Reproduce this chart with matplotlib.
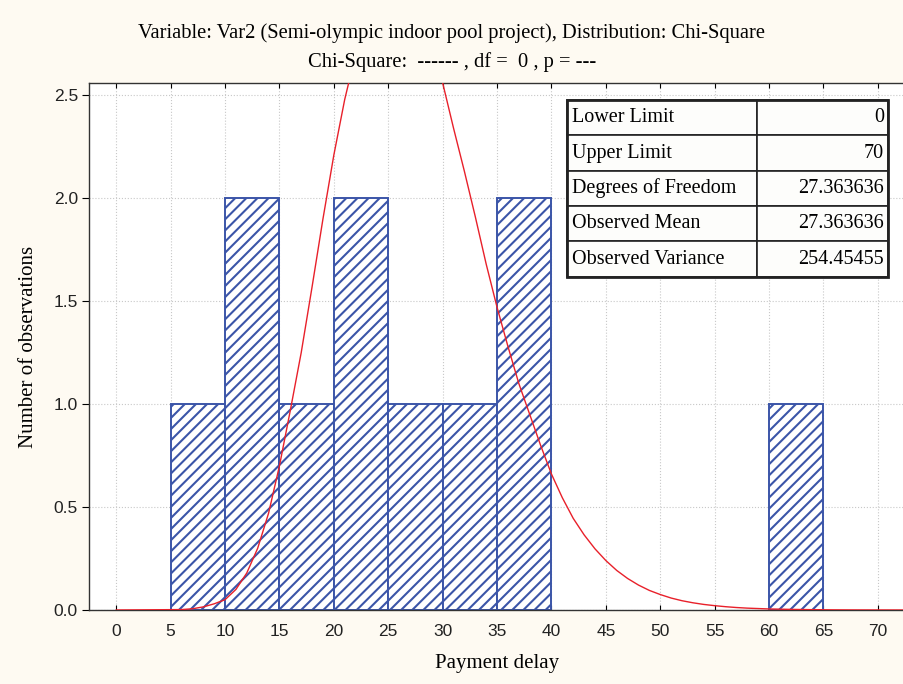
import matplotlib
matplotlib.use("Agg")
import matplotlib.pyplot as plt
from matplotlib.patches import Rectangle

# histogram of payment delay (bin left edges, counts)
bin_left = [5, 10, 15, 20, 25, 30, 35, 60]
counts = [1, 2, 1, 2, 1, 1, 2, 1]
bin_w = 5

# fitted chi-square curve
curve_x = [0, 6, 7, 8, 9, 10, 11, 12, 13, 14, 15, 16, 17, 18, 19, 20, 21, 22, 23, 24,
           25, 26, 27, 28, 29, 30, 31, 32, 33, 34, 35, 36, 37, 38, 39, 40, 41, 42, 43,
           44, 45, 46, 47, 48, 49, 50, 51, 52, 53, 54, 55, 56, 57, 58, 59, 60, 62, 64,
           66, 68, 72.5]
curve_y = [0, 0.002, 0.006, 0.015, 0.03, 0.05, 0.10, 0.18, 0.30, 0.47, 0.70, 0.97, 1.25,
           1.57, 1.90, 2.21, 2.48, 2.70, 2.87, 2.98, 3.04, 3.05, 3.01, 2.92, 2.76, 2.56,
           2.34, 2.13, 1.91, 1.68, 1.47, 1.28, 1.10, 0.95, 0.80, 0.66, 0.545, 0.445,
           0.365, 0.297, 0.24, 0.192, 0.153, 0.121, 0.095, 0.075, 0.058, 0.045, 0.035,
           0.027, 0.021, 0.016, 0.012, 0.009, 0.007, 0.005, 0.003, 0.0015, 0.0007,
           0.0003, 0]

table_rows = [["Lower Limit", "0"],
              ["Upper Limit", "70"],
              ["Degrees of Freedom", "27.363636"],
              ["Observed Mean", "27.363636"],
              ["Observed Variance", "254.45455"]]

serif = "Liberation Serif"
sans = "Liberation Sans"
blue = "#3b55a8"

plt.rcParams["hatch.color"] = blue
plt.rcParams["hatch.linewidth"] = 1.5

fig = plt.figure(figsize=(9.04, 6.84), dpi=100, facecolor="#fefaf2")
ax = fig.add_axes([0.0985, 0.1082, 0.9027, 0.770])
ax.set_facecolor("white")

ax.bar(bin_left, counts, width=bin_w, align="edge", facecolor="white",
       edgecolor=blue, linewidth=1.4, hatch="///", zorder=2)
ax.plot(curve_x, curve_y, color="#e8202a", linewidth=1.0, zorder=3)

ax.set_xlim(-2.5, 72.5)
ax.set_ylim(0, 2.558)
ax.set_xticks(range(0, 75, 5))
ax.set_yticks([0, 0.5, 1.0, 1.5, 2.0, 2.5])
ax.set_yticklabels(["0.0", "0.5", "1.0", "1.5", "2.0", "2.5"])
ax.grid(True, color="#c8c8c8", linestyle=":", linewidth=0.8, zorder=0)
ax.set_axisbelow(True)

ax.tick_params(axis="x", direction="in", top=True, length=3.5, pad=10,
               labelsize=12.5, labelcolor="#222222")
ax.tick_params(axis="y", direction="out", length=5, pad=3,
               labelsize=12.5, labelcolor="#222222")
for lab in ax.get_xticklabels() + ax.get_yticklabels():
    lab.set_fontfamily(sans)
for s in ax.spines.values():
    s.set_color("#333333")
    s.set_linewidth(1.0)

ax.set_xlabel("Payment delay", fontfamily=serif, fontsize=15, labelpad=11)
ax.set_ylabel("Number of observations", fontfamily=serif, fontsize=15, labelpad=11)

fig.text(0.5, 0.951, "Variable: Var2 (Semi-olympic indoor pool project), Distribution: Chi-Square",
         ha="center", va="center", fontfamily=serif, fontsize=14.8)
fig.text(0.5, 0.910, "Chi-Square:  ------ , df =  0 , p = ---",
         ha="center", va="center", fontfamily=serif, fontsize=14.8)

# parameter table
x0, x1 = 0.5854, 0.979
y0, y1 = 0.6328, 0.968
tb = ax.table(cellText=table_rows, colWidths=[0.591, 0.409],
              bbox=[x0, y0, x1 - x0, y1 - y0], zorder=5)
tb.auto_set_font_size(False)
for (r, c), cell in tb.get_celld().items():
    cell.set_facecolor("#fdfdfb")
    cell.set_edgecolor("#222222")
    cell.set_linewidth(1.2)
    cell.get_text().set_fontfamily(serif)
    cell.get_text().set_fontsize(14.5)
    cell.PAD = 0.03
    cell.get_text().set_ha("left" if c == 0 else "right")
ax.add_patch(Rectangle((x0, y0), x1 - x0, y1 - y0, transform=ax.transAxes,
                       fill=False, edgecolor="#222222", linewidth=2, zorder=6))

fig.savefig("out.png", dpi=100, facecolor=fig.get_facecolor())
